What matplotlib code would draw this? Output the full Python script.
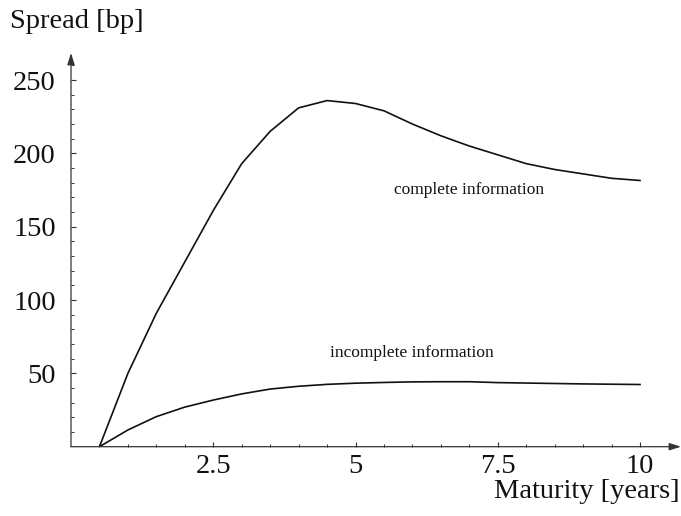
import matplotlib
matplotlib.use("Agg")
import matplotlib.pyplot as plt
from matplotlib.ticker import FixedLocator

plt.rcParams['font.family'] = ['Liberation Serif', 'DejaVu Serif']

maturity = [0.5, 1.0, 1.5, 2.0, 2.5, 3.0, 3.5, 4.0, 4.5, 5.0,
            5.5, 6.0, 6.5, 7.0, 7.5, 8.0, 8.5, 9.0, 9.5, 10.0]
complete_info = [0, 50, 91, 126, 161, 193, 215, 231, 236, 234,
                 229, 220, 212, 205, 199, 193, 189, 186, 183, 181.5]
incomplete_info = [0, 11.4, 20.5, 27, 31.8, 36, 39.3, 41.2, 42.5, 43.3,
                   43.8, 44.2, 44.3, 44.3, 43.7, 43.4, 43.1, 42.8, 42.6, 42.4]
x_major = [2.5, 5, 7.5, 10]
x_labels = ["2.5", "5", "7.5", "10"]
y_major = [50, 100, 150, 200, 250]
y_labels = ["50", "100", "150", "200", "250"]

W, H = 681, 516
fig = plt.figure(figsize=(W / 100, H / 100), dpi=100)
x0, y0 = 71, 446.7
x1, y1 = 681, 53
ax = fig.add_axes([x0 / W, 1 - y0 / H, (x1 - x0) / W, (y0 - y1) / H])
ax.set_xlim(0, (x1 - x0) / 56.9)
ax.set_ylim(0, (y0 - y1) / 1.4667)

ax.plot(maturity, complete_info, color='#111111', lw=1.2)
ax.plot(maturity, incomplete_info, color='#111111', lw=1.2)

for s in ax.spines.values():
    s.set_visible(False)
axc = '#333333'
ax.annotate('', xy=(1, 0), xytext=(0, 0), xycoords='axes fraction',
            arrowprops=dict(arrowstyle='-|>,head_length=0.7,head_width=0.22',
                            color=axc, lw=0.9, shrinkA=0, shrinkB=0))
ax.annotate('', xy=(0, 1), xytext=(0, 0), xycoords='axes fraction',
            arrowprops=dict(arrowstyle='-|>,head_length=0.7,head_width=0.22',
                            color=axc, lw=0.9, shrinkA=0, shrinkB=0))

ax.xaxis.set_major_locator(FixedLocator(x_major))
ax.set_xticklabels(x_labels)
ax.xaxis.set_minor_locator(FixedLocator([v * 0.5 for v in range(1, 21) if (v * 0.5) not in x_major]))
ax.yaxis.set_major_locator(FixedLocator(y_major))
ax.set_yticklabels(y_labels)
ax.yaxis.set_minor_locator(FixedLocator([v for v in range(10, 261, 10) if v not in y_major]))

ax.tick_params(which='major', direction='in', length=3.5, width=0.8, color=axc,
               labelsize=20.5, labelcolor='#111111')
ax.tick_params(which='minor', direction='in', length=2, width=0.7, color=axc)
ax.tick_params(axis='x', which='major', pad=5)
ax.tick_params(axis='y', which='major', pad=11)

ax.text(5.68, 175, 'complete information', fontsize=12.5, color='#111111',
        ha='left', va='center')
ax.text(4.55, 63.7, 'incomplete information', fontsize=12.5, color='#111111',
        ha='left', va='center')

fig.text(10 / W, 1 - 22 / H, 'Spread [bp]', fontsize=20.5, color='#111111',
         ha='left', va='center')
fig.text(680 / W, 1 - 492 / H, 'Maturity [years]', fontsize=20.5, color='#111111',
         ha='right', va='center')

fig.savefig('out.png', dpi=100)
